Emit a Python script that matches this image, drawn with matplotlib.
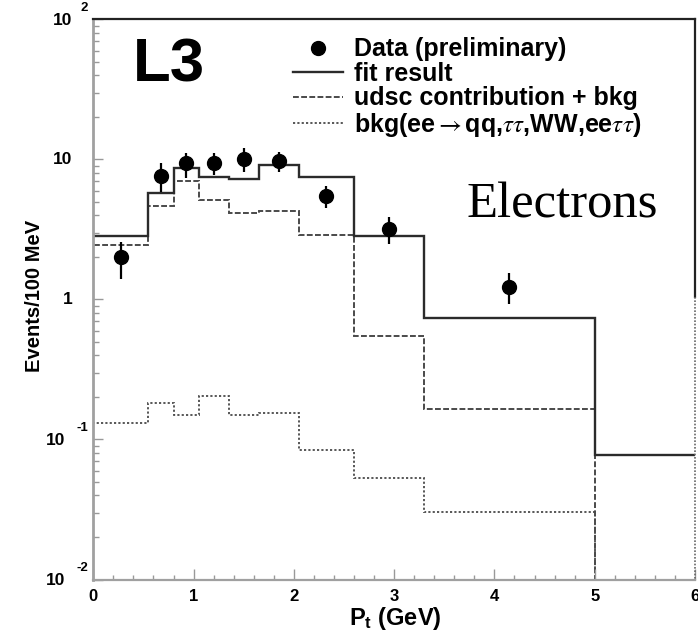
import matplotlib
matplotlib.use("Agg")
import matplotlib.pyplot as plt
from matplotlib.lines import Line2D
from matplotlib.font_manager import FontProperties
from matplotlib.ticker import FixedLocator, MultipleLocator, LogLocator, NullFormatter

plt.rcParams['font.family'] = ['Liberation Sans', 'DejaVu Sans']
plt.rcParams['mathtext.fontset'] = 'custom'
plt.rcParams['mathtext.rm'] = 'Liberation Sans'
plt.rcParams['mathtext.bf'] = 'Liberation Sans:bold'
plt.rcParams['mathtext.it'] = 'Liberation Sans:italic'

# P_t binning (GeV)
bin_edges = [0.0, 0.55, 0.80, 1.05, 1.35, 1.65, 2.05, 2.60, 3.30, 5.00, 6.00]

# Histogram contents (events / 100 MeV)
fit_result = [2.85, 5.8, 8.7, 7.5, 7.3, 9.2, 7.5, 2.85, 0.74, 0.077]
udsc_plus_bkg = [2.47, 4.64, 7.0, 5.12, 4.16, 4.32, 2.9, 0.547, 0.164]
bkg_only = [0.132, 0.183, 0.150, 0.205, 0.150, 0.155, 0.084, 0.053, 0.0305]

# Measured points with asymmetric errors
data_pt = [0.275, 0.675, 0.925, 1.20, 1.50, 1.85, 2.325, 2.95, 4.15]
data_events = [2.0, 7.6, 9.4, 9.4, 10.1, 9.8, 5.5, 3.17, 1.23]
data_err_low = [0.60, 1.7, 2.0, 1.7, 1.9, 1.6, 1.0, 0.68, 0.30]
data_err_high = [0.59, 1.8, 1.8, 1.8, 2.0, 1.6, 1.0, 0.69, 0.31]

# Axis decorations
xtick_values = [0, 1, 2, 3, 4, 5, 6]
xtick_labels = ['0', '1', '2', '3', '4', '5', '6']
ytick_values = [0.01, 0.1, 1, 10, 100]
ytick_mantissa = ['10', '10', '1', '10', '10']
ytick_exponent = ['-2', '-1', '', '', '2']

legend_labels = ['Data (preliminary)', 'fit result', 'udsc contribution + bkg',
                 r'bkg(ee$\rightarrow$qq,$\tau\tau$,WW,ee$\tau\tau$)']

fig = plt.figure(figsize=(6.98, 6.35), dpi=100)
ax = fig.add_axes([0.1337, 0.0874, 0.8620, 0.8819])
ax.set_yscale('log')
ax.set_xlim(0, 6)
ax.set_ylim(0.01, 100)

udsc_style = dict(color='#4a4a4a', lw=1.4, ls=(0, (3, 1.2)))
bkg_style = dict(color='#4a4a4a', lw=1.3, ls=(0, (1.2, 1.2)))
fit_style = dict(color='#2b2b2b', lw=1.7, ls='-')

ax.stairs(bkg_only, bin_edges[:len(bkg_only) + 1], baseline=1e-3, **bkg_style)
ax.stairs(udsc_plus_bkg, bin_edges[:len(udsc_plus_bkg) + 1], baseline=1e-3, **udsc_style)
ax.stairs(fit_result, bin_edges, baseline=None, **fit_style)

ax.errorbar(data_pt, data_events, yerr=[data_err_low, data_err_high],
            fmt='o', color='black', ms=10, elinewidth=1.6, capsize=0, zorder=5)

# Frame: grey axes on left/bottom, dark line on top, split line on right
for side in ('left', 'bottom'):
    ax.spines[side].set_color('#a0a0a0')
ax.spines['left'].set_linewidth(2.0)
ax.spines['bottom'].set_linewidth(1.6)
ax.spines['top'].set_color('#222222')
ax.spines['top'].set_linewidth(1.6)
ax.spines['right'].set_visible(False)
ax.plot([1, 1], [1, 0.504], transform=ax.transAxes, color='#222222', lw=1.6, clip_on=False)
ax.plot([1, 1], [0.504, 0], transform=ax.transAxes, color='#666666', lw=1.2,
        ls=(0, (1, 1)), clip_on=False)

# x axis ticks
ax.xaxis.set_major_locator(FixedLocator(xtick_values))
ax.xaxis.set_minor_locator(MultipleLocator(0.2))
ax.set_xticklabels(xtick_labels, fontsize=12, fontweight='bold')
ax.tick_params(axis='x', which='major', direction='in', length=8, width=1, color='#999999',
               pad=7, top=False)
ax.tick_params(axis='x', which='minor', direction='in', length=3.5, width=1, color='#999999',
               top=False)

# y axis ticks with hand-set power-of-ten labels
ax.yaxis.set_major_locator(FixedLocator(ytick_values))
ax.yaxis.set_minor_locator(LogLocator(base=10, subs=range(2, 10)))
ax.yaxis.set_minor_formatter(NullFormatter())
ax.set_yticklabels([])
ax.tick_params(axis='y', which='major', direction='in', length=7, width=1, color='#999999',
               right=False)
ax.tick_params(axis='y', which='minor', direction='in', length=4.5, width=1, color='#999999',
               right=False)

for val, man, exp in zip(ytick_values, ytick_mantissa, ytick_exponent):
    if exp:
        ax.annotate(exp, xy=(0, val), xycoords=('axes fraction', 'data'),
                    xytext=(-3.8, 8), textcoords='offset points', ha='right', va='center',
                    fontsize=9.5, fontweight='bold')
        shift = -15 if len(exp) == 1 else -20
        ax.annotate(man, xy=(0, val), xycoords=('axes fraction', 'data'),
                    xytext=(shift, -1), textcoords='offset points', ha='right', va='center',
                    fontsize=12.5, fontweight='bold')
    else:
        ax.annotate(man, xy=(0, val), xycoords=('axes fraction', 'data'),
                    xytext=(-15, 0), textcoords='offset points', ha='right', va='center',
                    fontsize=12.5, fontweight='bold')

fig.text(0.050, 0.534, 'Events/100 MeV', rotation=90, ha='center', va='center',
         fontsize=14.5, fontweight='bold')
fig.text(0.566, 0.016, r'$\mathbf{P_t}$ (GeV)', ha='center', va='baseline',
         fontsize=17, fontweight='bold')

ax.text(0.066, 0.889, 'L3', transform=ax.transAxes, ha='left', va='baseline',
        fontsize=44.5, fontweight='bold')
ax.text(0.621, 0.647, 'Electrons', transform=ax.transAxes, ha='left', va='baseline',
        fontsize=36.5, family='Liberation Serif')

handles = [
    Line2D([], [], marker='o', ls='none', color='black', ms=10),
    Line2D([], [], **fit_style),
    Line2D([], [], **udsc_style),
    Line2D([], [], **bkg_style),
]
legend_font = FontProperties(family=['Liberation Sans', 'DejaVu Sans'], weight='bold',
                             size=18, math_fontfamily='stix')
ax.legend(handles, legend_labels, loc='upper left', bbox_to_anchor=(0.332, 0.968),
          frameon=False, prop=legend_font, handlelength=2.0, handletextpad=0.42,
          labelspacing=0.02, borderpad=0, borderaxespad=0)

fig.savefig('out.png', dpi=100)
